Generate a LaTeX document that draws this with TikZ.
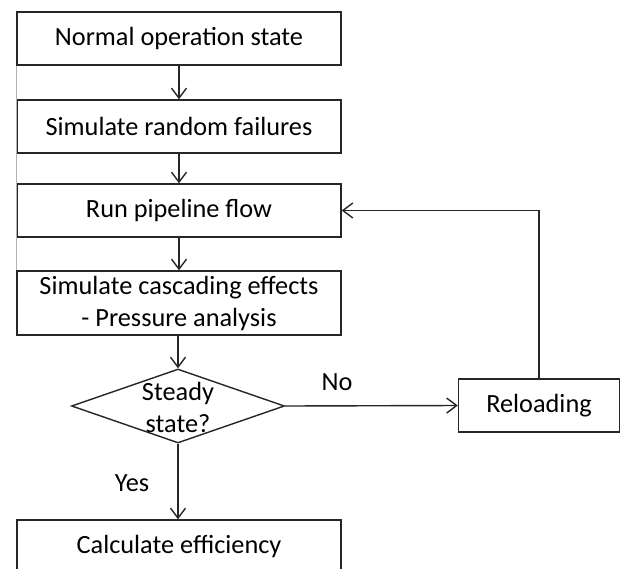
\documentclass[tikz,border=0pt]{standalone}
\usepackage{fontspec}
\setmainfont{Carlito}
\usetikzlibrary{arrows.meta,shapes.geometric}
\begin{document}
\begin{tikzpicture}[x=1pt,y=-1pt,
  txt/.style={font=\fontsize{26.3}{32}\selectfont, align=center, inner sep=0pt},
  box/.style={txt, draw=black!85, line width=1.4pt, minimum width=324pt, minimum height=53pt},
  decision/.style={diamond, draw=black!85, line width=1.4pt, minimum width=213pt, minimum height=74pt, inner sep=0pt},
  arr/.style={draw=black!85, line width=1.4pt, -{Straight Barb[length=10pt,width=15pt]}}
]
\useasboundingbox (0,0) rectangle (621,568);
\clip (0,0) rectangle (621,568);
\fill[white] (0,0) rectangle (621,568);

% main column of steps
\node[box] (n1) at (179,38.5) {Normal operation state};
\node[box] (n2) at (179,126.5) {Simulate random failures};
\node[box] (n3) at (179,210.5) {Run pipeline flow};
\node[box, minimum height=64pt] (n4) at (179,303) {Simulate cascading effects\\- Pressure analysis};
\node[decision] (dm) at (178,406) {};
\node[txt] (dmt) at (178,407) {Steady\\state?};
\node[box] (n5) at (179,546.5) {Calculate efficiency};

% side branch
\node[box, minimum width=161pt] (rl) at (539,405.5) {Reloading};

% faint guide along the left edge of the upper boxes
\draw[black!30, line width=1pt] (n1.south west) -- (n4.north west);

% connectors
\draw[arr] (n1) -- (n2);
\draw[arr] (n2) -- (n3);
\draw[arr] (n3) -- (n4);
\draw[arr] (n4.south -| dm.north) -- (dm.north);
\draw[arr] (dm.east) -- (rl.west);
\draw[arr] (rl.north) |- (n3.east);
\draw[arr] (dm.south) -- (n5.north -| dm.south);

% branch labels
\node[txt] (no) at (337,382) {No};
\node[txt] (yes) at (132,483) {Yes};
\end{tikzpicture}
\end{document}
